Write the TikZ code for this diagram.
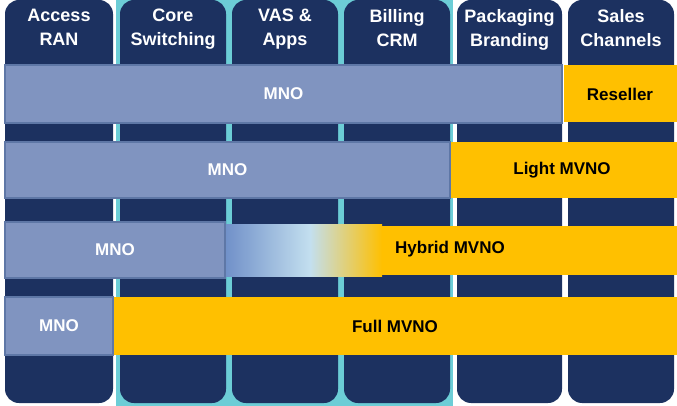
\documentclass[tikz,border=0pt]{standalone}
\usepackage{fontspec}
\setmainfont{Liberation Sans}
\definecolor{navy}{HTML}{1C3160}
\definecolor{teal}{HTML}{6CCDD6}
\definecolor{gold}{HTML}{FFC000}
\definecolor{mnofill}{HTML}{8094C0}
\definecolor{mnoline}{HTML}{5E77A6}
\definecolor{paleblue}{HTML}{C3DFEF}
\definecolor{midblue}{HTML}{6F8FC8}
\tikzset{column/.style = {fill=navy, rounded corners=14pt},
         head/.style = {text=white, font=\bfseries\fontsize{18}{24}\selectfont, align=center, anchor=north, inner sep=0pt},
         mno/.style = {draw=mnoline, fill=mnofill, line width=2.5pt, text=white, font=\bfseries\fontsize{17}{20}\selectfont, inner sep=0pt},
         mvno/.style = {fill=gold},
         tag/.style = {font=\bfseries\fontsize{17}{20}\selectfont}}
\begin{document}
\begin{tikzpicture}[x=1pt,y=-1pt]
        \useasboundingbox (0,0) rectangle (677,406);
        \fill[teal](116,0) rectangle (453,406);

        % columns
        \foreach \xa/\xb/\lab in {5/113/{Access\\RAN},120/226/{Core\\Switching},232/338/{VAS \&\\Apps},344/450/{Billing\\CRM},457/562/{Packaging\\Branding},568/674/{Sales\\Channels}}{
            \fill[column](\xa,0) rectangle (\xb,403);
            \node[head] at ({(\xa+\xb)/2},9) {\lab};
        }

        % Reseller
        \fill[mvno](564,65) rectangle (677,122);
        \node[mno] (mnoa) at (283.5,94) [minimum width=557pt, minimum height=58pt] {MNO};
        \node[tag] (reseller) at (620,94) {Reseller};

        % Light MVNO
        \fill[mvno](450,142) rectangle (677,198);
        \node[mno] (mnob) at (227.5,170) [minimum width=445pt, minimum height=56pt] {MNO};
        \node[tag] (light) at (562,170) {Light MVNO};

        % Hybrid MVNO
        \shade[left color=midblue, right color=paleblue](224,224) rectangle (310,276);
        \shade[left color=paleblue, right color=gold](310,224) rectangle (382,276);
        \fill[mvno](382,226) rectangle (677,275);
        \node[mno] (mnoc) at (115,250) [minimum width=220pt, minimum height=56pt] {MNO};
        \node[tag] (hybrid) at (450,249) {Hybrid MVNO};

        % Full MVNO
        \fill[mvno](113,297) rectangle (677,355);
        \node[mno] (mnod) at (59,326) [minimum width=108pt, minimum height=58pt] {MNO};
        \node[tag] (full) at (395,326) {Full MVNO};
    \end{tikzpicture}
\end{document}
